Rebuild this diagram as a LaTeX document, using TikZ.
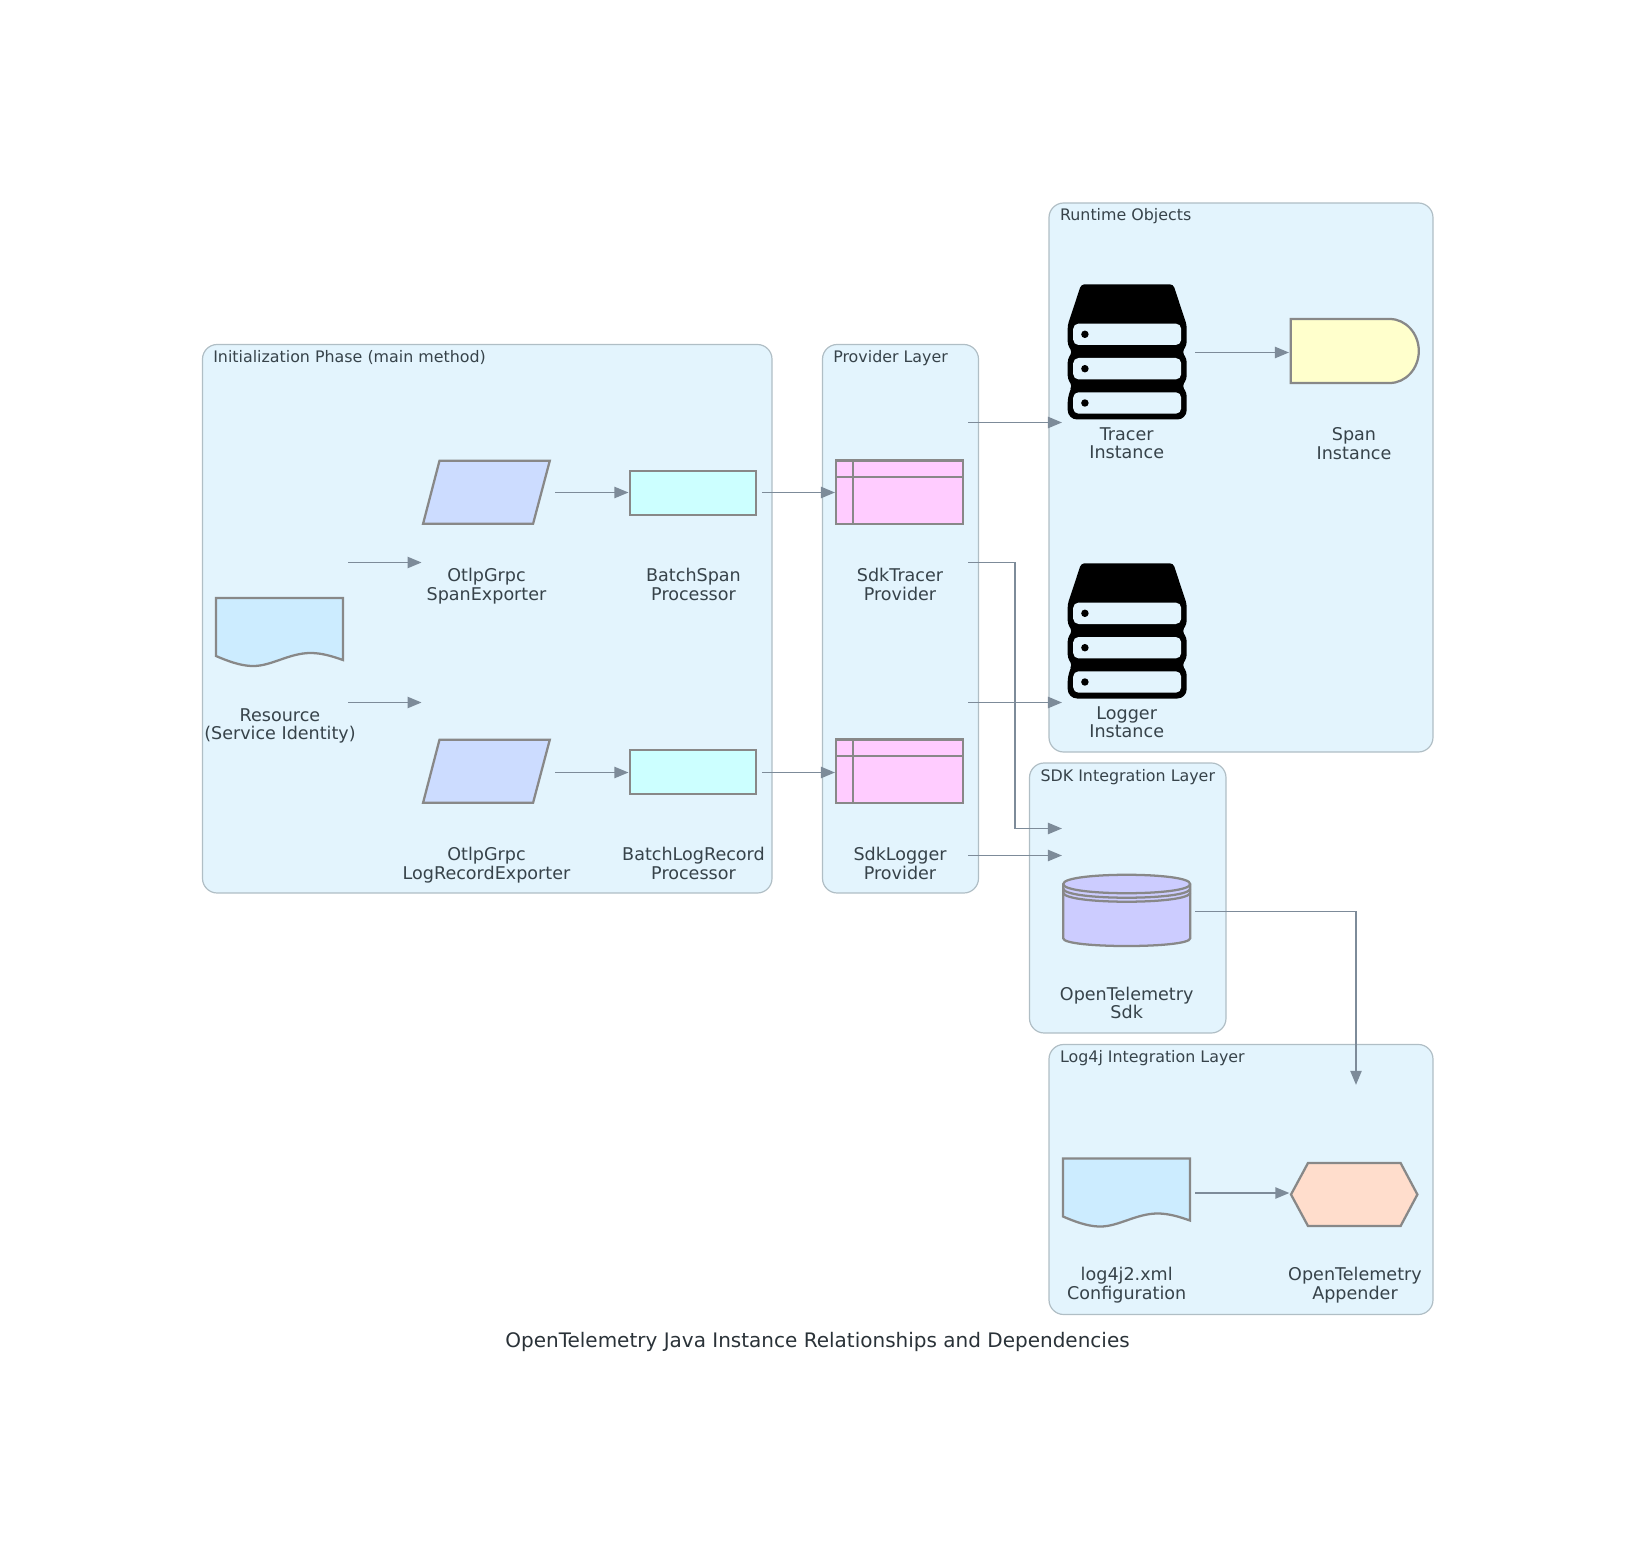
\documentclass[tikz,border=0pt]{standalone}
\usepackage{fontspec}
\setmainfont{DejaVu Sans}
\usetikzlibrary{arrows.meta}

\definecolor{layerfill}{HTML}{E3F4FD}
\definecolor{layerline}{HTML}{B0BEC5}
\definecolor{linkline}{HTML}{7D8B99}
\definecolor{shapeline}{HTML}{888888}
\definecolor{textcol}{HTML}{37434A}
\definecolor{titlecol}{HTML}{2A3238}
\definecolor{docfill}{HTML}{CCECFF}
\definecolor{exportfill}{HTML}{CCDCFF}
\definecolor{batchfill}{HTML}{CCFFFF}
\definecolor{providerfill}{HTML}{FFCCFF}
\definecolor{spanfill}{HTML}{FFFFCC}
\definecolor{sdkfill}{HTML}{CCCCFF}
\definecolor{appenderfill}{HTML}{FFDDCC}

\tikzset{
	layer/.style={draw=layerline,fill=layerfill,line width=0.9pt,rounded corners=11pt},
	layertitle/.style={anchor=base west,inner sep=0pt,text=textcol,font=\fontsize{11.9}{14}\selectfont},
	entity/.style={rectangle,inner sep=0pt,outer sep=0pt,minimum width=102.6pt,minimum height=105pt},
	caption/.style={align=center,inner sep=0pt,text=textcol,font=\fontsize{13.17}{14}\selectfont,execute at begin node=\strut,execute at end node=\strut},
	outline/.style={draw=shapeline,line width=1.7pt,line join=miter},
	link/.style={draw=linkline,line width=1pt,-{Triangle[length=10.5pt,width=8.5pt]},shorten >=-2.5pt},
	pics/docshape/.style={code={
		\draw[outline,fill=docfill] (-63.5,-34) -- (63.5,-34) -- (63.5,28)
			.. controls (52,24) and (42,21) .. (31,21)
			.. controls (10,21) and (-8,34) .. (-26,34)
			.. controls (-35,34) and (-45,32) .. (-63.5,24) -- cycle;
	}},
	pics/exportshape/.style={code={
		\draw[outline,fill=exportfill] (-47,-31.5) -- (63.3,-31.5) -- (46.6,31.5) -- (-63.4,31.5) -- cycle;
	}},
	pics/batchshape/.style={code={
		\draw[outline,fill=batchfill] (-63.2,-22) rectangle (63.2,22);
	}},
	pics/providershape/.style={code={
		\draw[outline,fill=providerfill] (-63.5,-31.7) rectangle (63.5,31.7);
		\draw[outline] (-63.5,-15) -- (63.5,-15);
		\draw[outline] (-46.5,-31.7) -- (-46.5,31.7);
	}},
	pics/servershape/.style={code={
		\fill[black,rounded corners=2.5pt] (-46,-67.7) -- (46,-67.7) -- (59.5,-27) -- (59.5,-7) -- (55,0) -- (59.5,7)
			-- (59.5,27) -- (55,34) -- (59.5,41) [rounded corners=7pt] -- (59.5,67.5) -- (-59.5,67.5) -- (-59.5,41) [rounded corners=2.5pt]
			-- (-55,34) -- (-59.5,27) -- (-59.5,7) -- (-55,0) -- (-59.5,-7) -- (-59.5,-27) -- cycle;
		\foreach \slot in {-17.7,16.7,51} {
			\fill[layerfill,rounded corners=4pt] (-54,\slot-10.7) rectangle (54,\slot+10.7);
			\fill[black] (-42.3,\slot) circle (2.8pt);
		}
	}},
	pics/spanshape/.style={code={
		\draw[outline,fill=spanfill] (-64,-32) -- (35,-32) .. controls (51,-32) and (64,-17.5) .. (64,0)
			.. controls (64,17.5) and (51,32) .. (35,32) -- (-64,32) -- cycle;
	}},
	pics/sdkshape/.style={code={
		\draw[outline,fill=sdkfill] (-63.5,-27) -- (-63.5,27.3) .. controls (-63.5,37.6) and (63.5,37.6) .. (63.5,27.3)
			-- (63.5,-27) .. controls (63.5,-39.3) and (-63.5,-39.3) .. (-63.5,-27) -- cycle;
		\draw[outline] (-63.5,-27) .. controls (-63.5,-14.7) and (63.5,-14.7) .. (63.5,-27);
		\draw[outline] (-63.5,-22.5) .. controls (-63.5,-10.2) and (63.5,-10.2) .. (63.5,-22.5);
		\draw[outline] (-63.5,-18.5) .. controls (-63.5,-6.2) and (63.5,-6.2) .. (63.5,-18.5);
	}},
	pics/appendershape/.style={code={
		\draw[outline,fill=appenderfill] (-63.2,0) -- (-46.2,-31.5) -- (46.4,-31.5) -- (63.2,0) -- (46.4,31.5) -- (-46.2,31.5) -- cycle;
	}}
}

\begin{document}
\begin{tikzpicture}[x=0.75pt,y=-0.75pt]
	\useasboundingbox (0,0) rectangle (1636,1551);
%	\draw[help lines,step=100] (0,0) grid (1636,1551);

	\draw[layer] (202.5,344.5) rectangle (772,893);
	\draw[layer] (822.5,344.5) rectangle (978.5,893);
	\draw[layer] (1049,203) rectangle (1433,752);
	\draw[layer] (1029.5,763) rectangle (1226,1033);
	\draw[layer] (1049,1044.5) rectangle (1433,1314.5);

	\path (213,362.5) node(init_title) [layertitle] {Initialization Phase (main method)};
	\path (833,362.5) node(provider_title) [layertitle] {Provider Layer};
	\path (1059.8,221) node(runtime_title) [layertitle] {Runtime Objects};
	\path (1040.3,781) node(sdk_title) [layertitle] {SDK Integration Layer};
	\path (1059.8,1062.5) node(log4j_title) [layertitle] {Log4j Integration Layer};

	\path (280,632.5) node(resource) [entity] {};
	\path (486.6,492.5) node(otlpspan) [entity] {};
	\path (693.5,492.5) node(batchspan) [entity] {};
	\path (900,492.5) node(sdktracer) [entity] {};
	\path (486.6,772.5) node(otlplog) [entity] {};
	\path (693.5,772.5) node(batchlog) [entity] {};
	\path (900,772.5) node(sdklogger) [entity] {};
	\path (1127,352.5) node(tracer) [entity] {};
	\path (1354,352.5) node(span) [entity] {};
	\path (1127,632.5) node(logger) [entity] {};
	\path (1127,911.5) node(sdk) [entity] {};
	\path (1127,1193) node(config) [entity] {};
	\path (1354.4,1193) node(appender) [entity] {};

	\path (279.5,632) pic {docshape};
	\path (486.5,492.2) pic {exportshape};
	\path (693,493.3) pic {batchshape};
	\path (899.7,492.3) pic {providershape};
	\path (486.5,771.2) pic {exportshape};
	\path (693,772.3) pic {batchshape};
	\path (899.7,771.3) pic {providershape};
	\path (1127.2,352) pic {servershape};
	\path (1354.8,351) pic {spanshape};
	\path (1127.2,631) pic {servershape};
	\path (1126.7,911) pic {sdkshape};
	\path (1126.5,1192.5) pic {docshape};
	\path (1354.2,1194.5) pic {appendershape};

	\path (280,727) node(resource_label) [caption] {Resource\\(Service Identity)};
	\path (486.5,587) node(otlpspan_label) [caption] {OtlpGrpc\\SpanExporter};
	\path (693.5,587) node(batchspan_label) [caption] {BatchSpan\\Processor};
	\path (900,587) node(sdktracer_label) [caption] {SdkTracer\\Provider};
	\path (486.5,866) node(otlplog_label) [caption] {OtlpGrpc\\LogRecordExporter};
	\path (693.5,866) node(batchlog_label) [caption] {BatchLogRecord\\Processor};
	\path (900,866) node(sdklogger_label) [caption] {SdkLogger\\Provider};
	\path (1126.7,446) node(tracer_label) [caption] {Tracer\\Instance};
	\path (1354,446) node(span_label) [caption] {Span\\Instance};
	\path (1126.7,725) node(logger_label) [caption] {Logger\\Instance};
	\path (1126.7,1005.5) node(sdk_label) [caption] {OpenTelemetry\\Sdk};
	\path (1126.7,1286) node(config_label) [caption] {log4j2.xml\\Configuration};
	\path (1355,1286) node(appender_label) [caption] {OpenTelemetry\\Appender};
	\path (817.5,1341.6) node(diagram_title) [inner sep=0pt,text=titlecol,font=\fontsize{15}{18}\selectfont] {OpenTelemetry Java Instance Relationships and Dependencies};

	\path (sdktracer.south east) +(46.7,0) coordinate (tracer_bend);
	\path (sdk.north west) +(0,-13) coordinate (sdk_upper);
	\path (sdk.north west) +(0,14) coordinate (sdk_lower);
	\path (sdklogger.south east) +(0,13) coordinate (sdklogger_out);
	\path (appender.north) +(1.6,-41.5) coordinate (appender_in);

	\draw[link] (resource.north east) -- (otlpspan.south west);
	\draw[link] (resource.south east) -- (otlplog.north west);
	\draw[link] (otlpspan) -- (batchspan);
	\draw[link] (otlplog) -- (batchlog);
	\draw[link] (batchspan) -- (sdktracer);
	\draw[link] (batchlog) -- (sdklogger);
	\draw[link] (sdktracer.north east) -- (tracer.south west);
	\draw[link] (sdklogger.north east) -- (logger.south west);
	\draw[link] (sdktracer.south east) -- (tracer_bend) |- (sdk_upper);
	\draw[link] (sdklogger_out) -- (sdk_lower);
	\draw[link] (tracer) -- (span);
	\draw[link] (sdk.east) -| (appender_in);
	\draw[link] (config) -- (appender);
\end{tikzpicture}
\end{document}
